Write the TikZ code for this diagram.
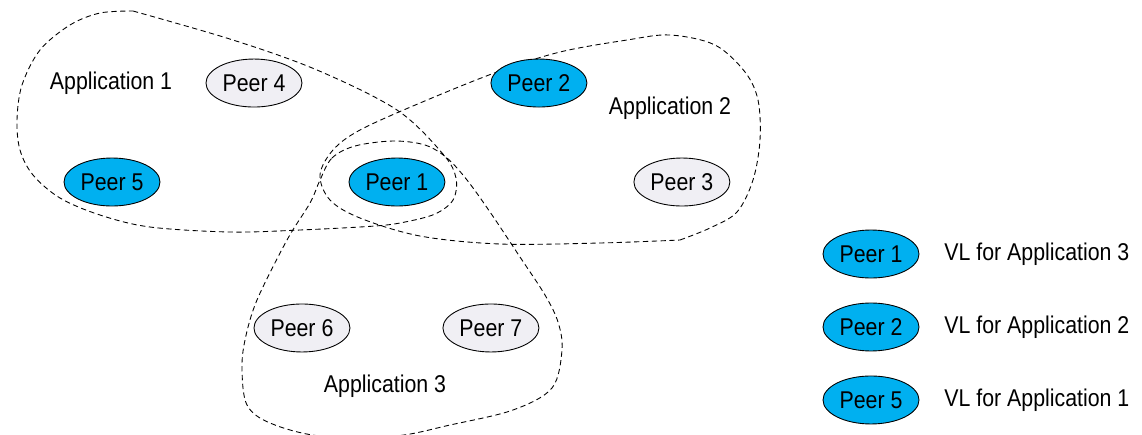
\documentclass[tikz,border=0pt]{standalone}
\usepackage{fontspec}
\setmainfont{Liberation Sans}[FakeStretch=0.88]
\usetikzlibrary{shapes.geometric,positioning}
\definecolor{vlblue}{RGB}{0,176,240}
\definecolor{peergrey}{RGB}{240,239,244}

\begin{document}
\begin{tikzpicture}[x=0.02cm,y=-0.02cm,on grid,node distance=2cm,
    font=\fontsize{13.8}{16}\selectfont,
    peer/.style={ellipse,draw,line width=0.5pt,minimum width=1.92cm,minimum height=0.96cm,inner sep=0pt,fill=peergrey},
    vl/.style={peer,fill=vlblue},
    app/.style={draw,line width=0.5pt,dash pattern=on 3pt off 2pt}]
  \useasboundingbox (0,0) rectangle (1142,434);
  \draw[app] plot[smooth,tension=0.55] coordinates {(133,11) (233,40) (317,70) (397,110) (443,154)
      (456,178) (453,200) (435,214) (405,222) (375,226) (300,230) (230,232) (150,227) (100,215)
      (60,198) (33,175) (20,150) (17,120) (22,85) (40,50) (70,25) (100,13) (133,11)};
  \draw[app] plot[smooth,tension=0.55] coordinates {(680,240) (710,228) (737,212) (753,180) (760,140)
      (758,100) (745,72) (715,45) (670,35) (627,40) (560,52) (497,72) (420,103) (360,130) (333,150)
      (320,175) (330,200) (360,218) (420,236) (500,244) (600,243) (680,240)};
  \draw[app] plot[smooth cycle,tension=0.55] coordinates {(320,180) (332,158) (355,146) (393,141)
      (425,145) (447,158) (467,180) (490,212) (520,257) (545,295) (558,322) (562,350) (552,388)
      (513,410) (450,425) (395,436) (320,436) (270,423) (247,405) (242,370) (245,340) (257,300)
      (287,240) (310,203)};
  \node[vl] (peer5) at (112,182) {Peer 5};
  \node[peer] (peer4) [above right=1.98cm and 2.84cm of peer5] {Peer 4};
  \node[vl] (peer1) [right=5.7cm of peer5] {Peer 1};
  \node[vl] (peer2) [right=5.7cm of peer4] {Peer 2};
  \node[peer] (peer3) [right=5.7cm of peer1] {Peer 3};
  \node[peer] (peer6) [below left=2.92cm and 1.9cm of peer1] {Peer 6};
  \node[peer] (peer7) [right=3.78cm of peer6] {Peer 7};
  \node (app1) at (111,83) {Application 1};
  \node (app2) at (670,108) {Application 2};
  \node (app3) at (385,386) {Application 3};
  \node[vl] (key1) at (871,254) {Peer 1};
  \node[vl] (key2) [below=1.46cm of key1] {Peer 2};
  \node[vl] (key5) [below=1.46cm of key2] {Peer 5};
  \node (key1txt) [right=1.46cm of key1,anchor=west,inner sep=0pt] {VL for Application 3};
  \node (key2txt) [right=1.46cm of key2,anchor=west,inner sep=0pt] {VL for Application 2};
  \node (key5txt) [right=1.46cm of key5,anchor=west,inner sep=0pt] {VL for Application 1};
\end{tikzpicture}
\end{document}
